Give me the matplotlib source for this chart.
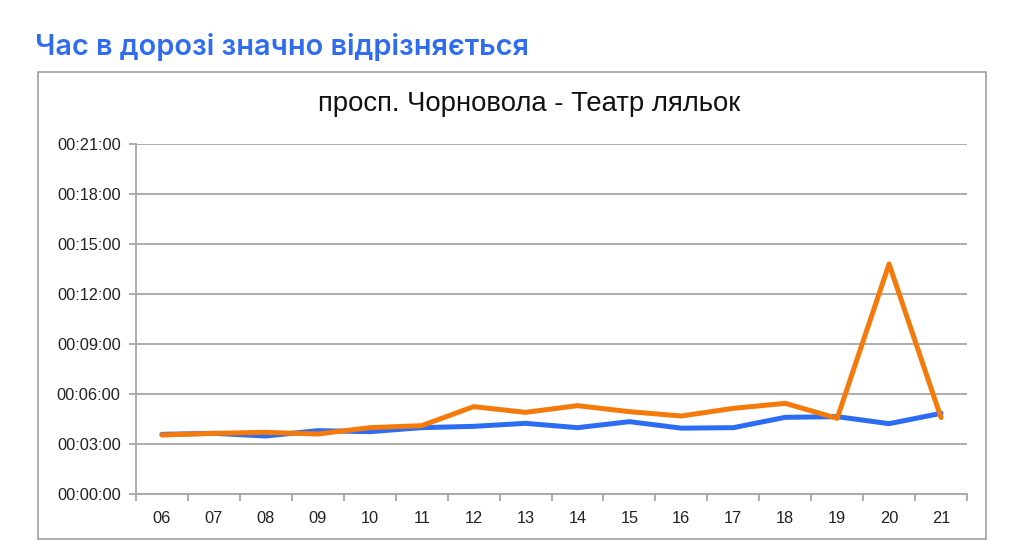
import matplotlib.pyplot as plt
from matplotlib.ticker import FuncFormatter, MultipleLocator
from matplotlib.patches import Rectangle

hours = ["06", "07", "08", "09", "10", "11", "12", "13",
         "14", "15", "16", "17", "18", "19", "20", "21"]

# travel time, minutes
blue_minutes = [3.58, 3.64, 3.48, 3.80, 3.74, 3.98, 4.06, 4.24,
                3.98, 4.34, 3.95, 3.98, 4.60, 4.64, 4.22, 4.84]
orange_minutes = [3.54, 3.64, 3.70, 3.60, 3.98, 4.10, 5.24, 4.90,
                  5.30, 4.94, 4.68, 5.14, 5.44, 4.54, 13.80, 4.58]

page_title = "Час в дорозі значно відрізняється"
chart_title = "просп. Чорновола - Театр ляльок"

BLUE = "#2c6cf3"
ORANGE = "#f57a0c"
GRID = "#a6a6a6"

plt.rcParams['font.family'] = ['Liberation Sans', 'DejaVu Sans']

fig = plt.figure(figsize=(10.24, 5.48), dpi=100)

# chart frame
fig.patches.append(Rectangle((38 / 1024, 1 - 539 / 548), (986 - 38) / 1024, (539 - 72) / 548,
                             transform=fig.transFigure, fill=False,
                             edgecolor="#a0a0a0", linewidth=1.2))

fig.text(35 / 1024, 1 - 47 / 548, page_title, color="#2f6cf0", fontsize=20.8,
         fontweight="semibold", family=['Inter', 'DejaVu Sans'], va="center", ha="left")

fig.text(529 / 1024, 1 - 104 / 548, chart_title, color="#111111", fontsize=19.8,
         va="center", ha="center")

ax = fig.add_axes([136 / 1024, 1 - 494 / 548, (967 - 136) / 1024, (494 - 144) / 548])

x = list(range(len(hours)))
ax.plot(x, blue_minutes, color=BLUE, linewidth=3.6, solid_capstyle="round", zorder=3)
ax.plot(x, orange_minutes, color=ORANGE, linewidth=3.6, solid_capstyle="round", zorder=4)

ax.set_xlim(-0.5, len(hours) - 0.5)
ax.set_ylim(0, 21)
ax.yaxis.set_major_locator(MultipleLocator(3))
ax.yaxis.set_major_formatter(FuncFormatter(lambda v, p: "00:%02d:00" % int(round(v))))
ax.grid(axis="y", color=GRID, linewidth=1.3)

ax.set_xticks(x)
ax.set_xticklabels(hours)
ax.set_xticks([i - 0.5 for i in range(len(hours) + 1)], minor=True)
ax.tick_params(axis="x", which="major", length=0, pad=12, labelsize=11.8, labelcolor="#222222")
ax.tick_params(axis="x", which="minor", length=5, width=1.3, color=GRID)
ax.tick_params(axis="y", length=5, width=1.3, color=GRID, labelsize=11.8, labelcolor="#222222", pad=6)

for side in ["top", "right"]:
    ax.spines[side].set_visible(False)
for side in ["left", "bottom"]:
    ax.spines[side].set_color(GRID)
    ax.spines[side].set_linewidth(1.3)

plt.savefig("out.png", dpi=100)
